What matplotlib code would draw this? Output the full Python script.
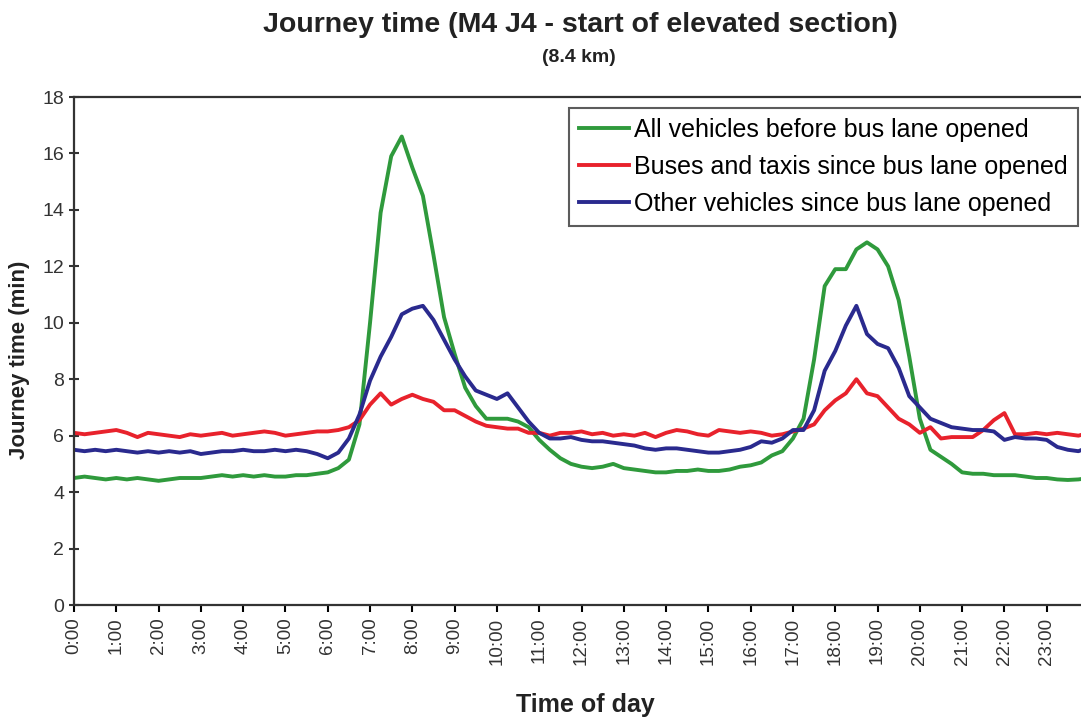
import matplotlib
matplotlib.use('Agg')
import matplotlib.pyplot as plt
import numpy as np

plt.rcParams['font.family'] = ['Liberation Sans', 'DejaVu Sans']

# journey times in minutes, every 15 minutes from 0:00 to 24:00
hours = np.arange(0, 24.01, 0.25)

all_before = [
    4.5, 4.55, 4.5, 4.45,
    4.5, 4.45, 4.5, 4.45,
    4.4, 4.45, 4.5, 4.5,
    4.5, 4.55, 4.6, 4.55,
    4.6, 4.55, 4.6, 4.55,
    4.55, 4.6, 4.6, 4.65,
    4.7, 4.85, 5.15, 6.4,
    10.0, 13.9, 15.9, 16.6,
    15.5, 14.5, 12.4, 10.2,
    8.9, 7.7, 7.05, 6.6,
    6.6, 6.6, 6.5, 6.3,
    5.85, 5.5, 5.2, 5.0,
    4.9, 4.85, 4.9, 5.0,
    4.85, 4.8, 4.75, 4.7,
    4.7, 4.75, 4.75, 4.8,
    4.75, 4.75, 4.8, 4.9,
    4.95, 5.05, 5.3, 5.45,
    5.9, 6.6, 8.7, 11.3,
    11.9, 11.9, 12.6, 12.85,
    12.6, 12.0, 10.8, 8.8,
    6.6, 5.5, 5.25, 5.0,
    4.7, 4.65, 4.65, 4.6,
    4.6, 4.6, 4.55, 4.5,
    4.5, 4.45, 4.43, 4.45, 4.5,
]

buses_taxis = [
    6.1, 6.05, 6.1, 6.15,
    6.2, 6.1, 5.95, 6.1,
    6.05, 6.0, 5.95, 6.05,
    6.0, 6.05, 6.1, 6.0,
    6.05, 6.1, 6.15, 6.1,
    6.0, 6.05, 6.1, 6.15,
    6.15, 6.2, 6.3, 6.55,
    7.1, 7.5, 7.1, 7.3,
    7.45, 7.3, 7.2, 6.9,
    6.9, 6.7, 6.5, 6.35,
    6.3, 6.25, 6.25, 6.1,
    6.1, 6.0, 6.1, 6.1,
    6.15, 6.05, 6.1, 6.0,
    6.05, 6.0, 6.1, 5.95,
    6.1, 6.2, 6.15, 6.05,
    6.0, 6.2, 6.15, 6.1,
    6.15, 6.1, 6.0, 6.05,
    6.15, 6.25, 6.4, 6.9,
    7.25, 7.5, 8.0, 7.5,
    7.4, 7.0, 6.6, 6.4,
    6.1, 6.3, 5.9, 5.95,
    5.95, 5.95, 6.2, 6.55,
    6.8, 6.05, 6.05, 6.1,
    6.05, 6.1, 6.05, 6.0, 6.1,
]

other_since = [
    5.5, 5.45, 5.5, 5.45,
    5.5, 5.45, 5.4, 5.45,
    5.4, 5.45, 5.4, 5.45,
    5.35, 5.4, 5.45, 5.45,
    5.5, 5.45, 5.45, 5.5,
    5.45, 5.5, 5.45, 5.35,
    5.2, 5.4, 5.9, 6.75,
    7.95, 8.8, 9.5, 10.3,
    10.5, 10.6, 10.1, 9.4,
    8.7, 8.1, 7.6, 7.45,
    7.3, 7.5, 7.0, 6.5,
    6.1, 5.9, 5.9, 5.95,
    5.85, 5.8, 5.8, 5.75,
    5.7, 5.65, 5.55, 5.5,
    5.55, 5.55, 5.5, 5.45,
    5.4, 5.4, 5.45, 5.5,
    5.6, 5.8, 5.75, 5.9,
    6.2, 6.2, 6.9, 8.3,
    9.0, 9.9, 10.6, 9.6,
    9.25, 9.1, 8.4, 7.4,
    7.0, 6.6, 6.45, 6.3,
    6.25, 6.2, 6.2, 6.15,
    5.85, 5.95, 5.9, 5.9,
    5.85, 5.6, 5.5, 5.45, 5.6,
]

labels = ['All vehicles before bus lane opened',
          'Buses and taxis since bus lane opened',
          'Other vehicles since bus lane opened']
colors = ['#2f9a3c', '#e8222c', '#2a2a8e']
tick_labels = ['%d:00' % h for h in range(24)]

fig = plt.figure(figsize=(10.81, 7.19), dpi=100)
ax = fig.add_axes([74/1081, 114/719, 1015/1081, 508/719])

for series, lab, col in zip([all_before, buses_taxis, other_since], labels, colors):
    ax.plot(hours, series, color=col, lw=2.8, label=lab, solid_joinstyle='round')

ax.set_xlim(0, 24)
ax.set_ylim(0, 18)
ax.set_xticks(range(24))
ax.set_xticklabels(tick_labels, rotation=90, fontsize=13.5, color='#333333')
ax.set_yticks(range(0, 19, 2))
ax.tick_params(axis='y', direction='inout', length=7, width=1.5, labelsize=14, colors='#333333')
ax.tick_params(axis='x', direction='out', length=5, width=1.5, pad=4)
for s in ax.spines.values():
    s.set_linewidth(1.6)
    s.set_color('#333333')

leg = ax.legend(loc='upper right', bbox_to_anchor=(1078/1081, 1 - 108/719),
                bbox_transform=fig.transFigure, fontsize=18, frameon=True,
                fancybox=False, handlelength=2.0, handletextpad=0.2,
                borderpad=0.4, labelspacing=0.52, borderaxespad=0)
leg.get_frame().set_edgecolor('#333333')
leg.get_frame().set_linewidth(1.5)

fig.text(580/1081, 1 - 25/719, 'Journey time (M4 J4 - start of elevated section)',
         ha='center', va='center', fontsize=20.5, fontweight='bold', color='#222222')
fig.text(579/1081, 1 - 58/719, '(8.4 km)', ha='center', va='center',
         fontsize=14, fontweight='bold', color='#222222')
fig.text(585/1081, 1 - 705/719, 'Time of day', ha='center', va='center',
         fontsize=18, fontweight='bold', color='#222222')
fig.text(20/1081, 1 - 360/719, 'Journey time (min)', ha='center', va='center',
         rotation=90, fontsize=16, fontweight='bold', color='#222222')

plt.savefig('out.png', dpi=100)
